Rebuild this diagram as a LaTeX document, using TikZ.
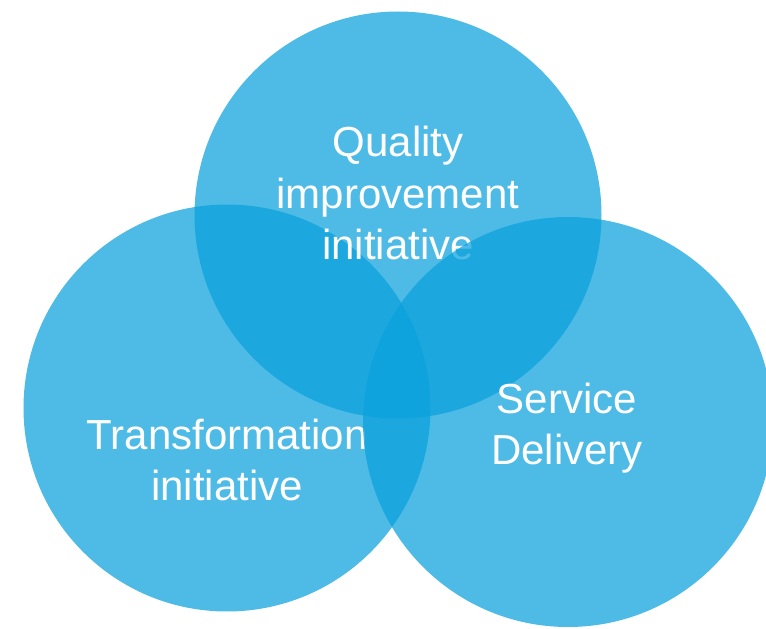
\documentclass[tikz,border=0pt]{standalone}
\usepackage{fontspec}
\setmainfont{Liberation Sans}
\usetikzlibrary{positioning}

\definecolor{vennblue}{RGB}{9,161,220}

\tikzset{
    venn/.style={circle, fill=vennblue, fill opacity=0.72, minimum size=8.14cm, inner sep=0pt},
    venntext/.style={text=white, align=center, font=\fontsize{23.9}{29.4}\selectfont}
}

\begin{document}
\begin{tikzpicture}
        \useasboundingbox (0,0) rectangle (15.32,12.58);

        \node [venn] (transform) at (4.54,4.42) {};
        \node [venntext] (transformlabel) at (4.54,3.38) {Transformation\\initiative};

        \node [venn] (quality) at (7.96,8.28) {};
        \node [venntext] (qualitylabel) at (7.96,8.72) {Quality\\improvement\\initiative};

        \node [venn, minimum size=8.2cm] (service) at (11.36,4.14) {};
        \node [venntext] (servicelabel) at (11.34,4.02) {Service\\Delivery};

    \end{tikzpicture}
\end{document}
